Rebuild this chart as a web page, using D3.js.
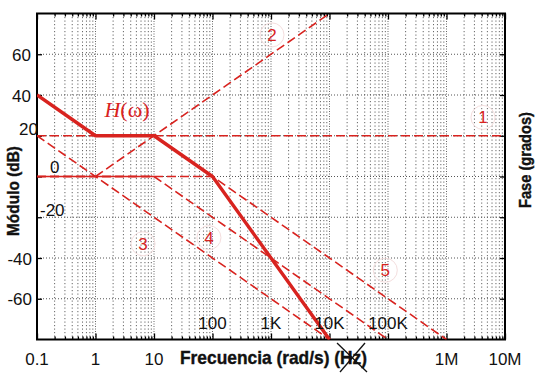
<!DOCTYPE html>
<html><head><meta charset="utf-8">
<script src="https://cdn.jsdelivr.net/npm/d3@7"></script>
<style>html,body{margin:0;padding:0;background:#fff;}svg{display:block;}</style>
</head><body>
<svg id="c" width="537" height="375"></svg>
<script>
// ---- data ----
const xMajorTicks = [0.1, 1, 10, 100, 1e3, 1e4, 1e5, 1e6, 1e7];
const xBottomLabels = ["0.1", "1", "10", "", "", "", "", "1M", "10M"];
const xInsideLabels = [{v: 100, t: "100"}, {v: 1e3, t: "1K"}, {v: 1e4, t: "10K"}, {v: 1e5, t: "100K"}];
const yTicks = [60, 40, 20, 0, -20, -40, -60];
const yLabels = ["60", "40", "20", "0", "-20", "-40", "-60"];

// H(w) magnitude (asymptotic), solid thick
const hOmega = [0.1, 1, 10, 100, 1e4];
const hMag = [40, 20, 20, 0, -80];
// asymptote components (dashed)
const a1Omega = [0.1, 1e7], a1Mag = [20, 20];
const a2Omega = [1, 1e4], a2Mag = [0, 80];
const a3Omega = [0.1, 1e4], a3Mag = [20, -80];
const a4Omega = [0.1, 10, 1e5], a4Mag = [0, 0, -80];
const a5Omega = [0.1, 100, 1e6], a5Mag = [0, 0, -80];
const compLabels = [
  {t: "1", w: 4.2e6, m: 29},
  {t: "2", w: 1.04e3, m: 69.5},
  {t: "3", w: 6.5, m: -33},
  {t: "4", w: 87, m: -30},
  {t: "5", w: 9e4, m: -46}
];
const hLabel = {w: 3.45, m: 29};

// ---- drawing ----
const svg = d3.select("#c");
const L = 37, R = 505, T = 13.5, B = 339.5;
const x = d3.scaleLog().domain([0.1, 1e7]).range([L, R]);
const y = d3.scaleLinear().domain([-80, 80]).range([B, T]);
const RED = "#d8231f";

// minor tick values
const minorTicks = [];
for (let e = -1; e < 7; e++) for (let k = 2; k <= 9; k++) minorTicks.push(k * Math.pow(10, e));

const defs = svg.append("defs");
defs.append("clipPath").attr("id", "clip").append("rect")
  .attr("x", L).attr("y", T).attr("width", R - L).attr("height", B - T);

// grid
const grid = svg.append("g");
grid.selectAll("line.vmin").data(minorTicks).join("line")
  .attr("x1", d => x(d)).attr("x2", d => x(d)).attr("y1", T).attr("y2", B)
  .attr("stroke", "#666").attr("stroke-width", 1).attr("stroke-dasharray", "1.2,2.3");
grid.selectAll("line.vmaj").data(xMajorTicks.slice(1, -1)).join("line")
  .attr("x1", d => x(d)).attr("x2", d => x(d)).attr("y1", T).attr("y2", B)
  .attr("stroke", "#666").attr("stroke-width", 1).attr("stroke-dasharray", "1,1.5");
grid.selectAll("line.h").data(yTicks).join("line")
  .attr("x1", L).attr("x2", R).attr("y1", d => y(d)).attr("y2", d => y(d))
  .attr("stroke", "#555").attr("stroke-width", 1).attr("stroke-dasharray", "1,2");

// axes (inward ticks)
const axTop = d3.axisBottom(x).tickValues(xMajorTicks).tickSize(6).tickFormat("");
const axTopMin = d3.axisBottom(x).tickValues(minorTicks).tickSize(3).tickFormat("");
const axBot = d3.axisTop(x).tickValues(xMajorTicks).tickSize(6).tickFormat("");
const axBotMin = d3.axisTop(x).tickValues(minorTicks).tickSize(3).tickFormat("");
const axLeft = d3.axisRight(y).tickValues(yTicks).tickSize(5).tickFormat("");
const axRight = d3.axisLeft(y).tickValues(yTicks).tickSize(5).tickFormat("");
function styleAx(g) { g.select(".domain").remove(); g.selectAll(".tick line").attr("stroke", "#000").attr("stroke-width", 1.3); }
svg.append("g").attr("transform", `translate(0,${T})`).call(axTop).call(styleAx);
svg.append("g").attr("transform", `translate(0,${T})`).call(axTopMin).call(styleAx);
svg.append("g").attr("transform", `translate(0,${B})`).call(axBot).call(styleAx);
svg.append("g").attr("transform", `translate(0,${B})`).call(axBotMin).call(styleAx);
svg.append("g").attr("transform", `translate(${L},0)`).call(axLeft).call(styleAx);
svg.append("g").attr("transform", `translate(${R},0)`).call(axRight).call(styleAx);
svg.append("rect").attr("x", L).attr("y", T).attr("width", R - L).attr("height", B - T)
  .attr("fill", "none").attr("stroke", "#000").attr("stroke-width", 2);

// lines
const line = d3.line().x(d => x(d[0])).y(d => y(d[1]));
const plot = svg.append("g").attr("clip-path", "url(#clip)");
const zip = (a, b) => a.map((v, i) => [v, b[i]]);
const dashed = [zip(a1Omega, a1Mag), zip(a2Omega, a2Mag), zip(a3Omega, a3Mag), zip(a4Omega, a4Mag), zip(a5Omega, a5Mag)];
plot.selectAll("path.asym").data(dashed).join("path")
  .attr("d", line).attr("fill", "none").attr("stroke", RED)
  .attr("stroke-width", 1.6).attr("stroke-dasharray", "9,4");
// flat part of component 4 overlapping 5 looks solid
plot.append("path").attr("d", line(zip(a4Omega, a4Mag).slice(0, 2)))
  .attr("fill", "none").attr("stroke", RED).attr("stroke-width", 1.6);
plot.append("path").attr("d", line(zip(hOmega, hMag))).attr("fill", "none")
  .attr("stroke", RED).attr("stroke-width", 3.4).attr("stroke-linejoin", "round");

// component labels
const lab = svg.append("g");
lab.selectAll("circle").data(compLabels).join("circle")
  .attr("cx", d => x(d.w)).attr("cy", d => y(d.m)).attr("r", 12)
  .attr("fill", "none").attr("stroke", "#f4dede").attr("stroke-width", 1);
lab.selectAll("text").data(compLabels).join("text")
  .attr("x", d => x(d.w)).attr("y", d => y(d.m) + 6).attr("text-anchor", "middle")
  .attr("font-family", "Liberation Sans, Arial, sans-serif").attr("font-size", 17)
  .attr("fill", RED).text(d => d.t);

// H(w) label
const ht = svg.append("text").attr("x", x(hLabel.w)).attr("y", y(hLabel.m))
  .attr("text-anchor", "middle").attr("font-family", "Liberation Serif, Times New Roman, serif")
  .attr("font-size", 22).attr("fill", RED);
ht.append("tspan").attr("font-style", "italic").text("H");
ht.append("tspan").text("(ω)");

// tick labels
const tf = "Liberation Sans, Arial, sans-serif";
svg.selectAll("text.xl").data(xMajorTicks.map((v, i) => ({v, t: xBottomLabels[i]})).filter(d => d.t)).join("text")
  .attr("x", d => x(d.v)).attr("y", 365).attr("text-anchor", "middle")
  .attr("font-family", tf).attr("font-size", 17).attr("fill", "#111").text(d => d.t);
svg.selectAll("text.xi").data(xInsideLabels).join("text")
  .attr("x", d => x(d.v)).attr("y", 329).attr("text-anchor", "middle")
  .attr("font-family", tf).attr("font-size", 17).attr("fill", "#111").text(d => d.t);
// y labels (some drawn inside the frame, as in reference)
const yPos = {"60": [31, 6.5, "end"], "40": [31, 6.5, "end"], "20": [38, -1, "end"], "0": [50, -4, "start"],
              "-20": [40, -1, "start"], "-40": [32, 6.5, "end"], "-60": [32, 6.5, "end"]};
svg.selectAll("text.yl").data(yTicks.map((v, i) => ({v, t: yLabels[i]}))).join("text")
  .attr("x", d => yPos[d.t][0]).attr("y", d => y(d.v) + yPos[d.t][1]).attr("text-anchor", d => yPos[d.t][2])
  .attr("font-family", tf).attr("font-size", 17).attr("fill", "#111").text(d => d.t);

// axis titles
svg.append("text").attr("transform", "translate(19,191) rotate(-90)").attr("text-anchor", "middle")
  .attr("font-family", tf).attr("font-weight", "bold").attr("font-size", 17)
  .attr("textLength", 90).attr("lengthAdjust", "spacingAndGlyphs").attr("stroke", "#111").attr("stroke-width", 0.4)
  .attr("fill", "#111").text("Módulo (dB)");
svg.append("text").attr("transform", "translate(531,160) rotate(-90)").attr("text-anchor", "middle")
  .attr("font-family", tf).attr("font-weight", "bold").attr("font-size", 17)
  .attr("textLength", 96).attr("lengthAdjust", "spacingAndGlyphs").attr("stroke", "#111").attr("stroke-width", 0.4)
  .attr("fill", "#111").text("Fase (grados)");
svg.append("text").attr("x", 180).attr("y", 364)
  .attr("font-family", tf).attr("font-weight", "bold").attr("font-size", 19)
  .attr("textLength", 187).attr("lengthAdjust", "spacingAndGlyphs").attr("stroke", "#111").attr("stroke-width", 0.4)
  .attr("fill", "#111").text("Frecuencia (rad/s) (Hz)");
// cross over "Hz"
svg.append("line").attr("x1", 337).attr("y1", 343).attr("x2", 367).attr("y2", 372).attr("stroke", "#111").attr("stroke-width", 1.3);
svg.append("line").attr("x1", 340).attr("y1", 372).attr("x2", 365).attr("y2", 343).attr("stroke", "#111").attr("stroke-width", 1.3);
</script>
</body></html>
